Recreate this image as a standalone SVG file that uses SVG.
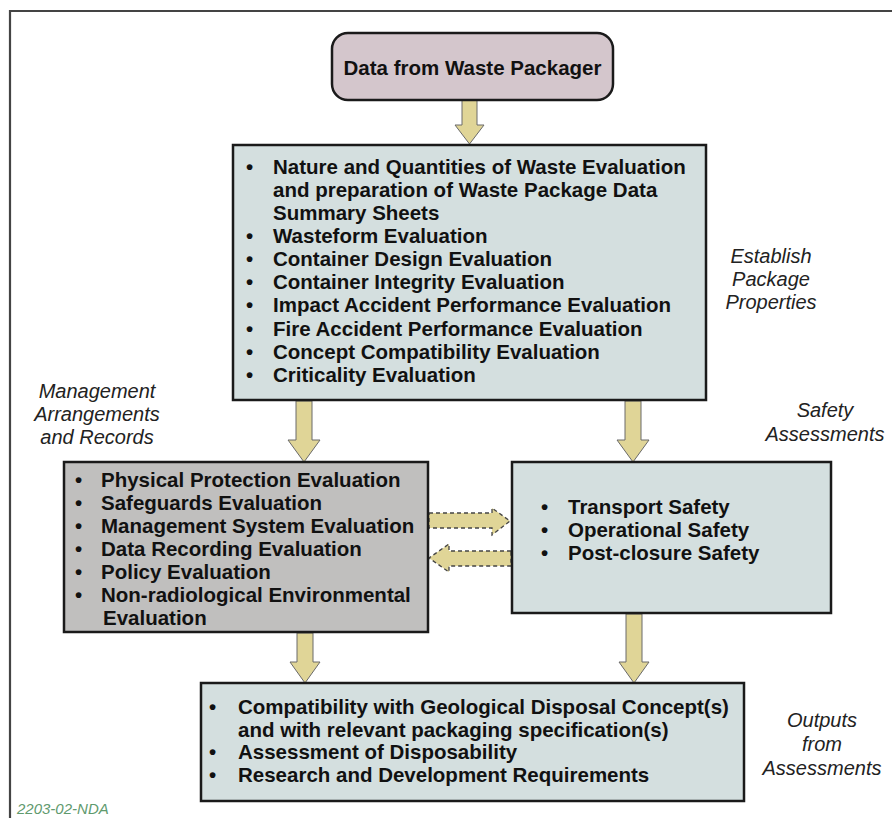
<svg xmlns="http://www.w3.org/2000/svg" width="892" height="818" viewBox="0 0 892 818">
<style>
.b{font-family:"Liberation Sans",Arial,sans-serif;font-weight:bold;font-size:20.5px;fill:#111}
.i{font-family:"Liberation Sans",Arial,sans-serif;font-style:italic;font-size:20px;fill:#222;text-anchor:middle}
.box{stroke:#1a1a1a;stroke-width:2.5}
.blue{fill:#d4dfdf}
.arr{fill:#e0d597;stroke:#6a6a6a;stroke-width:1}
.darr{fill:#e0d597;stroke:#444;stroke-width:1.3;stroke-dasharray:4 3}
</style>
<rect width="892" height="818" fill="#fff"/>
<path d="M10,818 V11 H892" fill="none" stroke="#444" stroke-width="2.2"/>

<g id="connectors">
<polygon class="arr" points="462,100 477,100 477,125 484,125 469.5,144 455,125 462,125"/>
<polygon class="arr" points="296,401 312,401 312,440 320,440 304,462 288,440 296,440"/>
<polygon class="arr" points="625,401 641,401 641,440 649,440 633,462 617,440 625,440"/>
<polygon class="arr" points="297,633 313,633 313,662 320,662 305,683 290,662 297,662"/>
<polygon class="arr" points="626,614 642,614 642,662 649,662 634,683 619,662 626,662"/>
<polygon class="darr" points="429,513 492,513 492,508 510,521 492,535 492,528 429,528"/>
<polygon class="darr" points="511,551 449,551 449,544 429,558 449,572 449,566 511,566"/>
</g>

<g id="waste-packager">
<rect class="box" x="332" y="33" width="281" height="67" rx="16" fill="#d4c6cc"/>
<text class="b" x="472.5" y="75" text-anchor="middle">Data from Waste Packager</text>
</g>

<g id="package-properties">
<rect class="box blue" x="233" y="145" width="473" height="255"/>
<g class="b">
<text x="246" y="174">•</text><text x="273" y="174">Nature and Quantities of Waste Evaluation</text>
<text x="273" y="197">and preparation of Waste Package Data</text>
<text x="273" y="220">Summary Sheets</text>
<text x="246" y="243">•</text><text x="273" y="243">Wasteform Evaluation</text>
<text x="246" y="266">•</text><text x="273" y="266">Container Design Evaluation</text>
<text x="246" y="289">•</text><text x="273" y="289">Container Integrity Evaluation</text>
<text x="246" y="312">•</text><text x="273" y="312">Impact Accident Performance Evaluation</text>
<text x="246" y="336">•</text><text x="273" y="336">Fire Accident Performance Evaluation</text>
<text x="246" y="359">•</text><text x="273" y="359">Concept Compatibility Evaluation</text>
<text x="246" y="382">•</text><text x="273" y="382">Criticality Evaluation</text>
</g>
</g>

<g id="management">
<rect class="box" x="64" y="462" width="364" height="170" fill="#c0bfbe"/>
<g class="b">
<text x="75" y="487">•</text><text x="101" y="487">Physical Protection Evaluation</text>
<text x="75" y="510">•</text><text x="101" y="510">Safeguards Evaluation</text>
<text x="75" y="533">•</text><text x="101" y="533">Management System Evaluation</text>
<text x="75" y="556">•</text><text x="101" y="556">Data Recording Evaluation</text>
<text x="75" y="579">•</text><text x="101" y="579">Policy Evaluation</text>
<text x="75" y="602">•</text><text x="101" y="602">Non-radiological Environmental</text>
<text x="103" y="625">Evaluation</text>
</g>
</g>

<g id="safety">
<rect class="box blue" x="512" y="462" width="319" height="151"/>
<g class="b">
<text x="541" y="514">•</text><text x="568" y="514">Transport Safety</text>
<text x="541" y="537">•</text><text x="568" y="537">Operational Safety</text>
<text x="541" y="560">•</text><text x="568" y="560">Post-closure Safety</text>
</g>
</g>

<g id="outputs">
<rect class="box blue" x="201" y="683" width="543" height="118"/>
<g class="b">
<text x="209" y="714">•</text><text x="238" y="714">Compatibility with Geological Disposal Concept(s)</text>
<text x="238" y="737">and with relevant packaging specification(s)</text>
<text x="209" y="759">•</text><text x="238" y="759">Assessment of Disposability</text>
<text x="209" y="782">•</text><text x="238" y="782">Research and Development Requirements</text>
</g>
</g>

<g id="labels">
<text class="i" x="771" y="263">Establish</text>
<text class="i" x="771" y="286">Package</text>
<text class="i" x="771" y="309">Properties</text>
<text class="i" x="97" y="398">Management</text>
<text class="i" x="97" y="421">Arrangements</text>
<text class="i" x="97" y="444">and Records</text>
<text class="i" x="825" y="417">Safety</text>
<text class="i" x="825" y="441">Assessments</text>
<text class="i" x="822" y="727">Outputs</text>
<text class="i" x="822" y="751">from</text>
<text class="i" x="822" y="775">Assessments</text>
<text x="17" y="814" font-family="'Liberation Sans',Arial,sans-serif" font-style="italic" font-size="15" fill="#5f9a6e">2203-02-NDA</text>
</g>
</svg>
